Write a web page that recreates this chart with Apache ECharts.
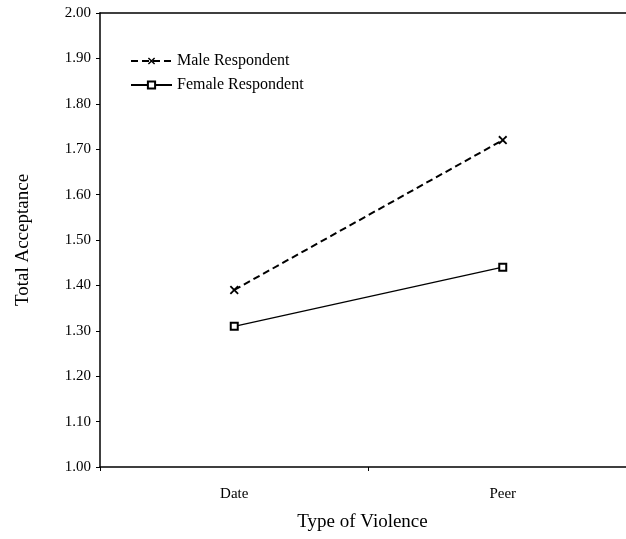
<!DOCTYPE html>
<html><head><meta charset="utf-8">
<script src="https://cdn.jsdelivr.net/npm/echarts@6/dist/echarts.min.js"></script>
<style>html,body{margin:0;padding:0;background:#fff}#c{width:626px;height:539px}</style>
</head><body><div id="c"></div>
<script>
const categories = ['Date', 'Peer'];
const maleValues = [1.39, 1.72];
const femaleValues = [1.31, 1.44];
const seriesNames = ['Male Respondent', 'Female Respondent'];

const F = '"Liberation Serif","DejaVu Serif",serif';
const chart = echarts.init(document.getElementById('c'));
const xMark = 'path://M0,1.4L1.4,0L5,3.6L8.6,0L10,1.4L6.4,5L10,8.6L8.6,10L5,6.4L1.4,10L0,8.6L3.6,5Z';
chart.setOption({
  animation: false,
  backgroundColor: '#fff',
  grid: { left: 100, width: 537, top: 13, height: 454, show: false, outerBoundsMode: 'none', containLabel: false },
  legend: {
    orient: 'vertical', left: 125, top: 48, itemGap: 8, itemWidth: 41, itemHeight: 9,
    textStyle: { fontFamily: F, fontSize: 16, color: '#000' },
    data: seriesNames
  },
  xAxis: [{
    type: 'category', data: categories, boundaryGap: true,
    name: 'Type of Violence', nameLocation: 'middle', nameGap: 46,
    nameTextStyle: { fontFamily: F, fontSize: 19, color: '#000', padding: [0, 12, 0, 0] },
    axisLine: { lineStyle: { color: '#000', width: 1.5 } },
    axisTick: { show: true, length: 4, lineStyle: { color: '#000' } },
    axisLabel: { fontFamily: F, fontSize: 15, color: '#000', margin: 20 },
    splitLine: { show: false }
  }, {
    type: 'category', data: categories, position: 'top', boundaryGap: true,
    axisLine: { lineStyle: { color: '#000', width: 1.5 } },
    axisTick: { show: false }, axisLabel: { show: false }
  }],
  yAxis: {
    type: 'value', min: 1, max: 2, interval: 0.1,
    name: 'Total Acceptance', nameLocation: 'middle', nameGap: 67,
    nameTextStyle: { fontFamily: F, fontSize: 19, color: '#000' },
    axisLine: { show: true, lineStyle: { color: '#000', width: 1.5 } },
    axisTick: { show: true, length: 4, lineStyle: { color: '#000' } },
    axisLabel: { fontFamily: F, fontSize: 15, color: '#000', margin: 9, formatter: v => v.toFixed(2) },
    splitLine: { show: false }
  },
  series: [
    {
      name: seriesNames[0], type: 'line', data: maleValues,
      symbol: xMark, symbolSize: 9,
      itemStyle: { color: '#000' },
      lineStyle: { color: '#000', width: 2, type: [7, 4] }
    },
    {
      name: seriesNames[1], type: 'line', data: femaleValues,
      symbol: 'emptyRect', symbolSize: 7,
      itemStyle: { color: '#000', borderColor: '#000', borderWidth: 1.5 },
      lineStyle: { color: '#000', width: 1.3 }
    }
  ]
});
</script></body></html>
